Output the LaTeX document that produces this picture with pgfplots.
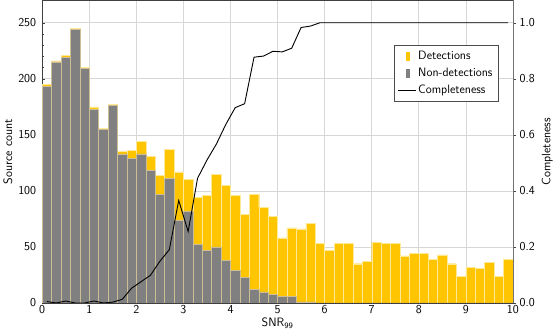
\documentclass[border=0pt]{standalone}
\usepackage{pgfplots}
\pgfplotsset{compat=1.18}
\usepackage{pgfplotstable}
\renewcommand{\familydefault}{\sfdefault}
\definecolor{detcol}{RGB}{255,197,0}
\definecolor{nondetcol}{RGB}{128,128,128}
\definecolor{gridcol}{RGB}{215,215,215}
\definecolor{detedge}{RGB}{255,232,150}
\definecolor{ndedge}{RGB}{205,190,150}

\pgfplotstableread{
x total nondet
0.1 195 193
0.3 216 215
0.5 221 219
0.7 245 244
0.9 210 209
1.1 175 173
1.3 156 155
1.5 177 176
1.7 135 133
1.9 136 129
2.1 144 133
2.3 131 118
2.5 114 97
2.7 137 111
2.9 117 74
3.1 110 82
3.3 94 52
3.5 96 47
3.7 115 50
3.9 105 38
4.1 96 29
4.3 79 23
4.5 97 12
4.7 85 10
4.9 77 8
5.1 58 6
5.3 67 6
5.5 66 1
5.7 71 1
5.9 53 0
6.1 47 0
6.3 53 0
6.5 53 0
6.7 35 0
6.9 37 0
7.1 54 0
7.3 53 0
7.5 53 0
7.7 42 0
7.9 44 0
8.1 44 0
8.3 39 0
8.5 43 0
8.7 35 0
8.9 24 0
9.1 32 0
9.3 31 0
9.5 36 0
9.7 24 0
9.9 39 0
}\histtable

\pgfplotstableread{
x c
0.1 0.005
0.3 0.0
0.5 0.007
0.7 0.0
0.9 0.0
1.1 0.007
1.3 0.0
1.5 0.003
1.7 0.013
1.9 0.053
2.1 0.076
2.3 0.099
2.5 0.149
2.7 0.19
2.9 0.366
3.1 0.255
3.3 0.445
3.5 0.51
3.7 0.567
3.9 0.637
4.1 0.697
4.3 0.711
4.5 0.877
4.7 0.881
4.9 0.898
5.1 0.896
5.3 0.909
5.5 0.983
5.7 0.988
5.9 1.0
6.1 1.0
6.3 1.0
6.5 1.0
6.7 1.0
6.9 1.0
7.1 1.0
7.3 1.0
7.5 1.0
7.7 1.0
7.9 1.0
8.1 1.0
8.3 1.0
8.5 1.0
8.7 1.0
8.9 1.0
9.1 1.0
9.3 1.0
9.5 1.0
9.7 1.0
9.9 1.0
}\compltable

\begin{document}
\begin{tikzpicture}
\begin{axis}[
  scale only axis,
  width=465pt, height=299pt,
  xmin=0, xmax=10, ymin=0, ymax=270,
  xtick={0,1,...,10}, ytick={0,50,...,250},
  minor x tick num=9, minor y tick num=4,
  xtick pos=left, ytick pos=left,
  tick align=inside,
  major tick length=3pt, minor tick length=1.5pt,
  grid=major,
  major grid style={gridcol, line width=0.6pt},
  axis line style={black!75},
  tick style={black!75},
  xlabel={SNR\textsubscript{99}},
  ylabel={Source count},
  ticklabel style={font=\fontsize{12}{14}\selectfont},
  label style={font=\fontsize{12}{14}\selectfont},
  /pgf/number format/assume math mode=true,
  xlabel style={yshift=3pt},
  ylabel style={yshift=-1pt},
  xticklabel style={yshift=1pt},
  yticklabel style={xshift=-2.5pt},
]
\addplot[ybar, bar width=0.2, bar shift=0pt, fill=detcol, draw=detedge, line width=0.4pt] table[x=x, y=total] {\histtable};
\addplot[ybar, bar width=0.2, bar shift=0pt, fill=nondetcol, draw=ndedge, line width=0.4pt] table[x=x, y=nondet] {\histtable};
\end{axis}
\begin{axis}[
  scale only axis,
  width=465pt, height=299pt,
  xmin=0, xmax=10, ymin=0, ymax=1.08,
  axis x line=none,
  axis y line*=right,
  ytick={0,0.2,...,1.0},
  tick align=outside,
  major tick length=3pt,
  axis line style={black!55},
  tick style={black!75},
  yticklabel style={/pgf/number format/.cd, fixed, fixed zerofill, precision=1},
  ticklabel style={font=\fontsize{12}{14}\selectfont},
  label style={font=\fontsize{12}{14}\selectfont},
  /pgf/number format/assume math mode=true,
  ylabel={Completeness},
  legend style={at={(0.97,0.853)}, anchor=north east, draw=black!70, fill=white,
    font=\fontsize{12}{14}\selectfont, row sep=3pt, inner xsep=4pt, inner ysep=4pt,
    cells={anchor=west}},
]
\addlegendimage{legend image code/.code={\fill[detcol] (0.26cm,-0.13cm) rectangle (0.36cm,0.13cm);}}
\addlegendentry{Detections}
\addlegendimage{legend image code/.code={\fill[nondetcol] (0.26cm,-0.13cm) rectangle (0.36cm,0.13cm);}}
\addlegendentry{Non-detections}
\addplot[black, line width=0.9pt] table[x=x, y=c] {\compltable};
\addlegendentry{Completeness}
\end{axis}
\end{tikzpicture}
\end{document}
